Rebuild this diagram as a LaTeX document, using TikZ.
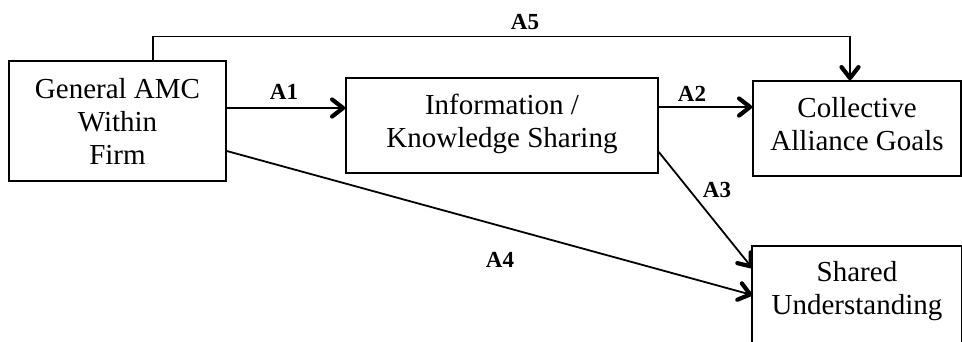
\documentclass[tikz,border=0pt]{standalone}
\usepackage{fontspec}
\setmainfont{Liberation Serif}
\usetikzlibrary{arrows.meta}
\begin{document}
\begin{tikzpicture}[x=1pt,y=-1pt,
  box/.style={draw, line width=1.6pt, inner sep=0pt, align=center,
    font=\fontsize{29}{33}\selectfont},
  lbl/.style={font=\fontsize{23}{26}\selectfont\bfseries, inner sep=0pt},
  arr/.style={-{Straight Barb[length=11pt,width=17pt,line width=4.2pt 0,line cap=round,line join=round]}, line width=1.8pt}]
\useasboundingbox (0,0) rectangle (962,341);
\clip (0,0) rectangle (962,341);
\node[box, minimum width=217pt, minimum height=120pt] (b1) at (117.5,121) {General AMC\\Within\\Firm};
\node[box, minimum width=312pt, minimum height=95pt, text depth=10pt] (b2) at (502,125.5) {Information /\\Knowledge Sharing};
\node[box, minimum width=208pt, minimum height=95pt, text depth=10pt] (b3) at (857,128.5) {Collective\\Alliance Goals};
\node[box, draw=none, minimum width=208pt, minimum height=89pt] (b4) at (857,291.5) {Shared\\Understanding};
\draw[line width=1.6pt] (b4.north west) rectangle ([yshift=-20pt]b4.south east);
\draw[arr, line width=2.2pt] ([yshift=13pt]b1.east) -- ([yshift=13pt]b1.east -| b2.west);
\draw[arr, line width=1.6pt] ([yshift=18.5pt]b2.east) -- ([yshift=18.5pt]b2.east -| b3.west);
\draw[arr] ([yshift=-26.5pt]b2.east) -- ([yshift=23.5pt]b4.west);
\draw[arr] ([yshift=-30pt]b1.east) -- ([yshift=-3.5pt]b4.west);
\draw[arr, line width=1.4pt] ([xshift=35.5pt]b1.north) -- ++(0,-24) -| ([xshift=-7pt]b3.north);
\node[lbl] (l1) at (284,92) {A1};
\node[lbl] (l2) at (692,94) {A2};
\node[lbl] (l3) at (717,190) {A3};
\node[lbl] (l4) at (500,260) {A4};
\node[lbl] (l5) at (525,22) {A5};
\end{tikzpicture}
\end{document}
